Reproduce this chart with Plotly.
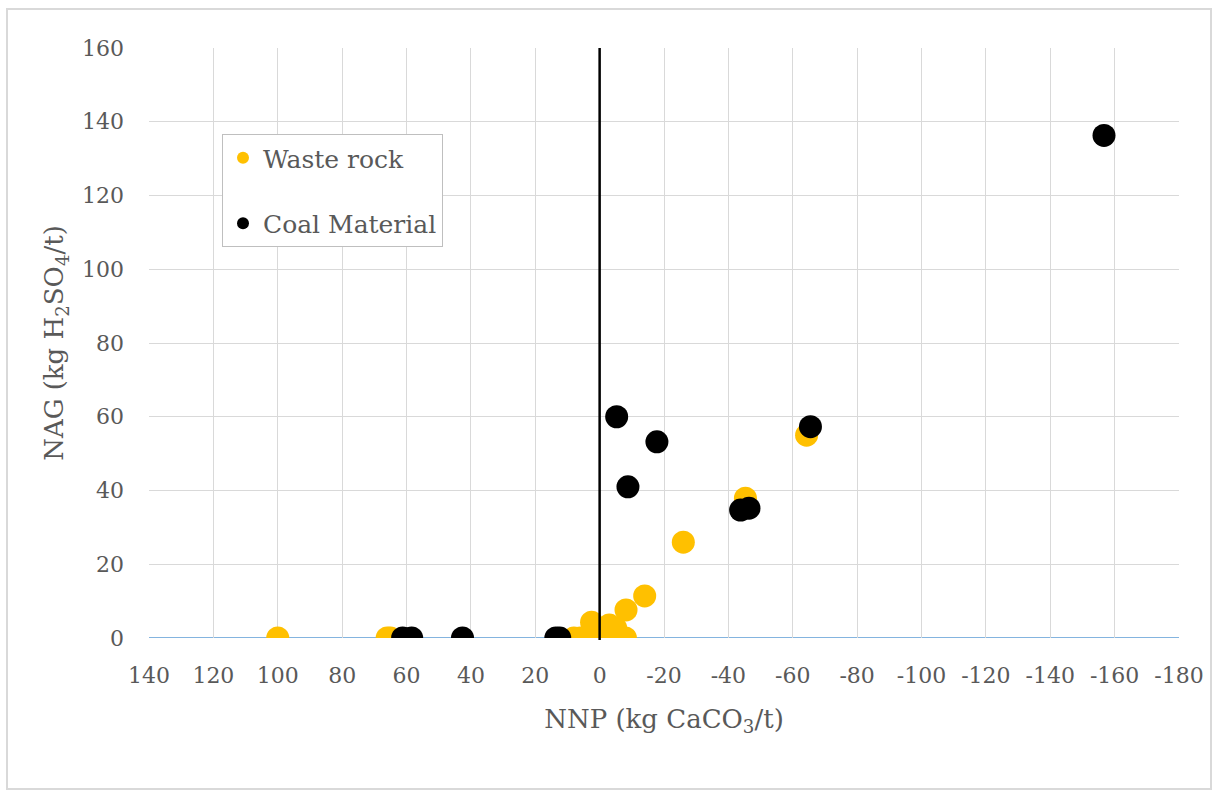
import plotly.graph_objects as go

# Data
waste_nnp = [100, 65, 66, 8, 6, 4, 2, 0, -2, -4, -6, -8, 2.5, -3, -5, -8.2, -14, -26, -45.3, -64.3]
waste_nag = [0, 0, 0, 0, 0, 0, 0, 0, 0, 0, 0, 0, 4.3, 3.5, 2.7, 7.6, 11.4, 26, 37.9, 55]

coal_nnp = [61.2, 58.4, 42.6, 13.6, 12.4, -5.3, -17.8, -8.8, -43.8, -46.4, -65.5, -156.7]
coal_nag = [0, 0, 0, 0, 0, 60, 53.2, 41, 34.7, 35.2, 57.3, 136.3]

x_ticks = list(range(140, -181, -20))
y_ticks = list(range(0, 161, 20))

FONT = "DejaVu Serif"
GRAY = "#595959"

fig = go.Figure()
fig.add_trace(go.Scatter(
    x=waste_nnp, y=waste_nag, mode="markers", name="Waste rock",
    marker=dict(color="#FFC000", size=23, line=dict(width=0)),
    legendgroup="a",
))
fig.add_trace(go.Scatter(
    x=coal_nnp, y=coal_nag, mode="markers", name="Coal Material",
    marker=dict(color="#000000", size=23, line=dict(width=0)),
    legendgroup="b",
))

L, R, T, B = 149, 1179, 48, 638
W, H = 1218, 796
pw, ph = R - L, B - T

def px_x(p):
    return (p - L) / pw

def px_y(p):
    return 1 - (p - T) / ph

fig.update_layout(
    width=W, height=H,
    margin=dict(l=L, r=W - R, t=T, b=H - B),
    paper_bgcolor="white", plot_bgcolor="white",
    font=dict(family=FONT, color=GRAY, size=22),
    showlegend=True,
    legend=dict(
        x=px_x(222), y=px_y(134), xanchor="left", yanchor="top",
        bordercolor="#bfbfbf", borderwidth=1, bgcolor="white",
        font=dict(family=FONT, size=25, color=GRAY),
        tracegroupgap=30, itemsizing="constant",
    ),
    xaxis=dict(
        range=[140, -180], tickvals=x_ticks, ticktext=[str(v) for v in x_ticks],
        showgrid=True, gridcolor="#d9d9d9", gridwidth=1,
        zeroline=False, showline=False, ticks="",
        tickfont=dict(family=FONT, size=22, color=GRAY),
        ticklabelstandoff=22,
        title=dict(text="NNP (kg CaCO<sub>3</sub>/t)", font=dict(family=FONT, size=26, color=GRAY), standoff=22),
    ),
    yaxis=dict(
        range=[0, 160], tickvals=y_ticks,
        showgrid=True, gridcolor="#d9d9d9", gridwidth=1,
        zeroline=False, showline=False, ticks="",
        tickfont=dict(family=FONT, size=22, color=GRAY),
        ticklabelstandoff=24,
        title=dict(text="NAG (kg H<sub>2</sub>SO<sub>4</sub>/t)", font=dict(family=FONT, size=26, color=GRAY), standoff=10),
    ),
    shapes=[
        # horizontal axis line at NAG = 0
        dict(type="line", xref="x", yref="y", x0=140, x1=-180, y0=0, y1=0,
             line=dict(color="#5B9BD5", width=1.5), layer="below"),
        # vertical line at NNP = 0
        dict(type="line", xref="x", yref="paper", x0=0, x1=0, y0=px_y(640), y1=1,
             line=dict(color="black", width=2.5), layer="above"),
        # outer frame
        dict(type="rect", xref="paper", yref="paper",
             x0=px_x(7), x1=px_x(1211), y0=px_y(789), y1=px_y(9),
             line=dict(color="#d9d9d9", width=2), layer="below"),
    ],
)

fig.write_html("out.html", config={"displayModeBar": False},
               post_script="document.body.style.margin='0';")
